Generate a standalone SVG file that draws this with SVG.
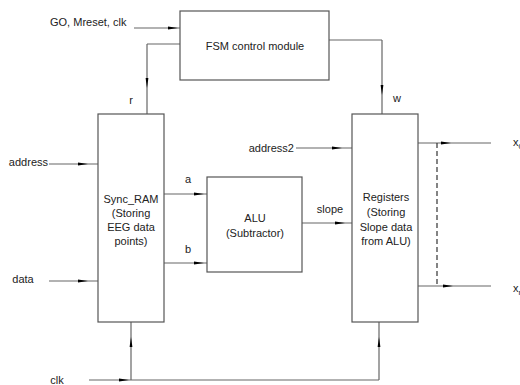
<svg xmlns="http://www.w3.org/2000/svg" width="520" height="385" viewBox="0 0 520 385">
<style>
.box{fill:#fff;stroke:#555;stroke-width:1.2}
.ln{fill:none;stroke:#666;stroke-width:1.2}
.ar{fill:none;stroke:#666;stroke-width:1.2;marker-mid:url(#ah)}
.dash{fill:none;stroke:#333;stroke-width:1.2;stroke-dasharray:5,3}
text{font-family:"Liberation Sans",Arial,sans-serif;font-size:11px;fill:#222}
.c{text-anchor:middle}
.e{text-anchor:end}
</style>
<defs>
<marker id="ah" viewBox="0 0 10 4" refX="10" refY="2" markerWidth="10" markerHeight="4" markerUnits="userSpaceOnUse" orient="auto">
<path d="M0,0.6 L10,2 L0,3.4 Z" fill="#000"/>
</marker>
</defs>
<rect width="520" height="385" fill="#fff"/>
<g id="connectors">
<path class="ar" d="M134,28 L178,28 L180,28"/>
<path class="ln" d="M180,44 L147,44"/>
<path class="ar" d="M147,44 L147,88 L147,114"/>
<path class="ln" d="M329,40 L382,40"/>
<path class="ar" d="M382,40 L382,95 L382,114"/>
<path class="ar" d="M49,164 L88,164 L98,164"/>
<path class="ar" d="M49,281 L88,281 L98,281"/>
<path class="ar" d="M164,194 L204,194 L207,194"/>
<path class="ar" d="M164,263 L204,263 L207,263"/>
<path class="ar" d="M296,148 L342,148 L352,148"/>
<path class="ar" d="M302,223 L345,223 L352,223"/>
<path class="ar" d="M418,143 L451,143 L491,143"/>
<path class="ar" d="M418,286 L453,286 L491,286"/>
<path class="dash" d="M437,143 L437,286"/>
<path class="ar" d="M89,380 L129,380 L131,380"/>
<path class="ln" d="M131,380 L379,380"/>
<path class="ar" d="M131,380 L131,337 L131,322"/>
<path class="ar" d="M379,380 L379,337 L379,322"/>
</g>
<g id="fsm">
<rect class="box" x="180" y="11" width="149" height="69"/>
<text class="c" x="255" y="50">FSM control module</text>
</g>
<g id="sync_ram">
<rect class="box" x="98" y="114" width="66" height="208"/>
<text class="c" x="131" y="203">Sync_RAM</text>
<text class="c" x="131" y="217">(Storing</text>
<text class="c" x="131" y="231">EEG data</text>
<text class="c" x="131" y="245">points)</text>
</g>
<g id="alu">
<rect class="box" x="207" y="177" width="95" height="95"/>
<text class="c" x="255" y="222">ALU</text>
<text class="c" x="255" y="237">(Subtractor)</text>
</g>
<g id="registers">
<rect class="box" x="352" y="114" width="66" height="208"/>
<text class="c" x="386" y="201">Registers</text>
<text class="c" x="386" y="216">(Storing</text>
<text class="c" x="386" y="231">Slope data</text>
<text class="c" x="386" y="245">from ALU)</text>
</g>
<g id="labels">
<text x="50" y="26">GO, Mreset, clk</text>
<text class="c" x="131" y="104">r</text>
<text class="c" x="397" y="102">w</text>
<text class="e" x="48" y="166">address</text>
<text class="c" x="23" y="283">data</text>
<text class="c" x="188" y="183">a</text>
<text class="c" x="188" y="253">b</text>
<text class="c" x="330" y="213">slope</text>
<text class="e" x="294" y="152">address2</text>
<text class="c" x="57" y="384">clk</text>
<text x="513" y="146">x<tspan font-size="8" dy="3">0</tspan></text>
<text x="513" y="292">x<tspan font-size="8" dy="3">n</tspan></text>
</g>
</svg>
